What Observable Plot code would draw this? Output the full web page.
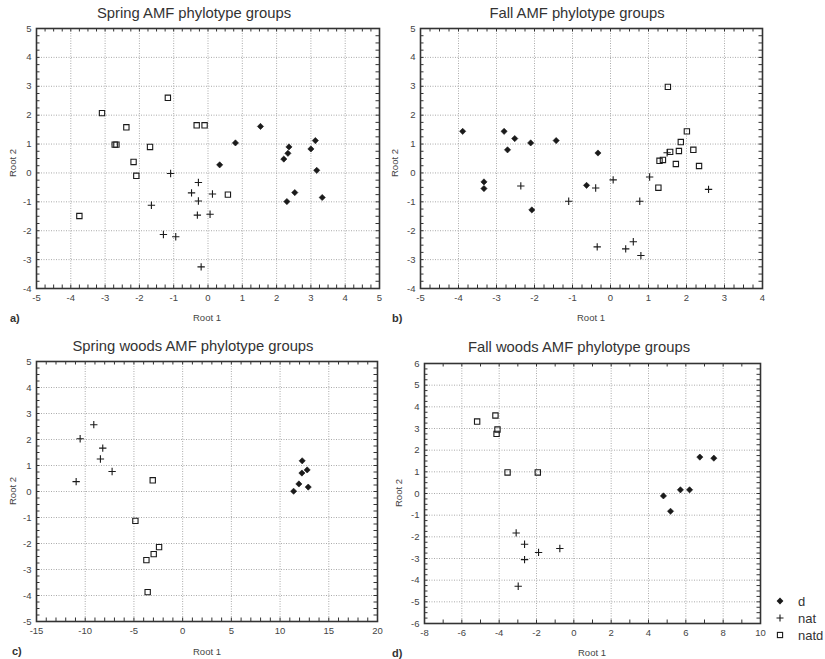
<!DOCTYPE html>
<html><head><meta charset="utf-8">
<script src="https://cdn.jsdelivr.net/npm/d3@7"></script>
<script src="https://cdn.jsdelivr.net/npm/@observablehq/plot@0.6"></script>
<style>
body{margin:0;background:#fff;}
#root{position:relative;width:825px;height:659px;font-family:"Liberation Sans",Arial,sans-serif;overflow:hidden;background:#fff;}
.pl{position:absolute;}
.title{position:absolute;font-size:14.8px;color:#333;white-space:nowrap;transform:translate(-50%,-50%);}
.xl{position:absolute;font-size:9.5px;color:#444;white-space:nowrap;transform:translate(-50%,-50%);}
.yl{position:absolute;font-size:9.5px;color:#444;white-space:nowrap;transform:translate(-50%,-50%) rotate(-90deg);}
.let{position:absolute;font-size:11px;font-weight:bold;color:#333;transform:translate(0,-50%);}
.leg{position:absolute;font-size:13px;color:#333;transform:translate(0,-50%);white-space:nowrap;}
.legsym{position:absolute;transform:translate(-50%,-50%);}
</style></head>
<body><div id="root"></div>
<script>
// ---- data: [Root 1, Root 2] ----
const groups = ["d", "nat", "natd"];
// a) Spring
const springD = [[1.53,1.61],[0.8,1.04],[0.34,0.28],[2.36,0.9],[2.33,0.68],[2.21,0.48],[3.13,1.12],[3.0,0.83],[3.17,0.09],[2.53,-0.68],[2.3,-0.99],[3.33,-0.85]];
const springNat = [[-1.09,-0.02],[-0.28,-0.33],[-0.48,-0.69],[0.13,-0.73],[-0.28,-0.97],[-1.65,-1.12],[-0.31,-1.46],[0.06,-1.43],[-1.3,-2.13],[-0.94,-2.21],[-0.2,-3.25]];
const springNatd = [[-3.09,2.07],[-1.17,2.6],[-2.38,1.58],[-2.72,0.98],[-2.67,0.98],[-1.69,0.9],[-2.17,0.38],[-2.09,-0.1],[-0.33,1.65],[-0.1,1.65],[0.58,-0.75],[-3.75,-1.49]];
// b) Fall
const fallD = [[-3.89,1.44],[-2.8,1.44],[-2.52,1.19],[-2.71,0.8],[-2.1,1.04],[-1.43,1.12],[-0.33,0.69],[-3.33,-0.31],[-3.33,-0.54],[-0.63,-0.43],[-2.07,-1.28]];
const fallNat = [[-2.36,-0.45],[-0.39,-0.52],[0.07,-0.24],[1.03,-0.14],[-1.1,-0.98],[0.77,-0.98],[2.58,-0.57],[1.49,0.7],[-0.35,-2.56],[0.4,-2.63],[0.6,-2.38],[0.8,-2.86]];
const fallNatd = [[1.51,2.98],[2.01,1.44],[1.85,1.07],[1.57,0.73],[1.8,0.76],[2.18,0.8],[1.29,0.42],[1.38,0.45],[1.72,0.31],[2.33,0.24],[1.26,-0.51]];
// c) Spring woods
const springWoodsD = [[12.27,1.18],[12.78,0.83],[12.24,0.71],[11.93,0.29],[12.89,0.17],[11.39,0.01]];
const springWoodsNat = [[-9.12,2.57],[-10.52,2.03],[-8.2,1.67],[-8.44,1.25],[-7.24,0.77],[-10.93,0.38]];
const springWoodsNatd = [[-3.07,0.43],[-4.85,-1.13],[-2.42,-2.14],[-2.97,-2.41],[-3.72,-2.64],[-3.59,-3.87]];
// d) Fall woods
const fallWoodsD = [[6.75,1.68],[7.5,1.63],[4.8,-0.11],[5.71,0.17],[6.2,0.17],[5.18,-0.82]];
const fallWoodsNat = [[-3.09,-1.82],[-2.64,-2.34],[-2.64,-3.05],[-1.89,-2.72],[-0.75,-2.54],[-2.98,-4.28]];
const fallWoodsNatd = [[-5.18,3.32],[-4.2,3.6],[-4.09,2.95],[-4.14,2.75],[-3.55,0.97],[-1.93,0.97]];

const titles = ["Spring AMF phylotype groups","Fall AMF phylotype groups","Spring woods AMF phylotype groups","Fall woods AMF phylotype groups"];
const letters = ["a)","b)","c)","d)"];
const xLabel = "Root 1", yLabel = "Root 2";

const panels = [
  {f:{l:36,t:28,r:379,b:288}, x:[-5,5], xs:1, xm:0.25, y:[-4,5], ys:1, ym:0.25, d:springD, nat:springNat, natd:springNatd,
   title:[194,13], letter:[10,318], xl:[207,317], yl:[12,163]},
  {f:{l:420,t:28,r:762,b:288}, x:[-5,4], xs:1, xm:0.25, y:[-4,5], ys:1, ym:0.25, d:fallD, nat:fallNat, natd:fallNatd,
   title:[577,13], letter:[392,318], xl:[591,317], yl:[394,163]},
  {f:{l:36,t:361,r:377,b:621}, x:[-15,20], xs:5, xm:1, y:[-5,5], ys:1, ym:0.25, d:springWoodsD, nat:springWoodsNat, natd:springWoodsNatd,
   title:[193,346], letter:[12,651], xl:[207,651], yl:[12,491]},
  {f:{l:424,t:363,r:760,b:623}, x:[-8,10], xs:2, xm:1, y:[-6,6], ys:1, ym:0.25, d:fallWoodsD, nat:fallWoodsNat, natd:fallWoodsNatd,
   title:[579,347], letter:[392,653], xl:[592,652], yl:[398,493]}
];

const root = document.getElementById("root");
const M = 40;
const ink = "#1a1a1a";

panels.forEach((p, i) => {
  const W = p.f.r - p.f.l, H = p.f.b - p.f.t;
  const kx = (p.x[1]-p.x[0])/W, ky = (p.y[1]-p.y[0])/H;
  const tl = 3.5;
  const rng = (a,b,s) => d3.range(Math.round((b-a)/s)+1).map(k => +(a + k*s).toFixed(6));
  const majX = rng(p.x[0], p.x[1], p.xs), majY = rng(p.y[0], p.y[1], p.ys);
  const minX = rng(p.x[0], p.x[1], p.xm), minY = rng(p.y[0], p.y[1], p.ym);
  const chart = Plot.plot({
    width: W + 2*M, height: H + 2*M,
    marginLeft: M, marginRight: M, marginTop: M, marginBottom: M,
    x: {domain: p.x}, y: {domain: p.y},
    style: {background: "none", overflow: "visible", fontFamily: "'Liberation Sans', Arial, sans-serif"},
    marks: [
      Plot.gridX(majX, {stroke: "#aaa", strokeOpacity: 1, strokeDasharray: "1,1.5"}),
      Plot.gridY(majY, {stroke: "#aaa", strokeOpacity: 1, strokeDasharray: "1,1.5"}),
      Plot.axisX(majX, {tickSize: 0, tickPadding: 6, fontSize: 9.5, fill: "#444", tickFormat: d => String(d), label: null}),
      Plot.axisY(majY, {tickSize: 0, tickPadding: 5, fontSize: 9.5, fill: "#444", tickFormat: d => String(d), label: null}),
      Plot.ruleX(minX, {x: d => d, y1: p.y[0], y2: p.y[0] + tl*ky, stroke: "#333"}),
      Plot.ruleX(minX, {x: d => d, y1: p.y[1], y2: p.y[1] - tl*ky, stroke: "#333"}),
      Plot.ruleY(minY, {y: d => d, x1: p.x[0], x2: p.x[0] + tl*kx, stroke: "#333"}),
      Plot.ruleY(minY, {y: d => d, x1: p.x[1], x2: p.x[1] - tl*kx, stroke: "#333"}),
      Plot.frame({stroke: "#333", strokeWidth: 1.6}),
      Plot.dot(p.nat, {x: d => d[0], y: d => d[1], symbol: "plus", r: 2.5, stroke: ink, strokeWidth: 1.1}),
      Plot.dot(p.natd, {x: d => d[0], y: d => d[1], symbol: "square", r: 3.0, fill: "white", fillOpacity: 0, stroke: ink, strokeWidth: 1.1}),
      Plot.dot(p.d, {x: d => d[0], y: d => d[1], symbol: "diamond2", r: 2.8, fill: ink, stroke: ink, strokeWidth: 0.6})
    ]
  });
  const div = document.createElement("div");
  div.className = "pl";
  div.style.left = (p.f.l - M) + "px";
  div.style.top = (p.f.t - M) + "px";
  div.style.width = (W + 2*M) + "px";
  div.appendChild(chart);
  root.appendChild(div);

  const add = (cls, txt, xy) => {
    const e = document.createElement("div");
    e.className = cls; e.textContent = txt;
    e.style.left = xy[0] + "px"; e.style.top = xy[1] + "px";
    root.appendChild(e);
  };
  add("title", titles[i], p.title);
  add("let", letters[i], p.letter);
  add("xl", xLabel, p.xl);
  add("yl", yLabel, p.yl);
});

// legend
const legY = [601, 618, 635];
const legSym = [
  '<svg width="10" height="10" viewBox="-5 -5 10 10"><path d="M0,-3.4L3.4,0L0,3.4L-3.4,0Z" fill="#1a1a1a"/></svg>',
  '<svg width="10" height="10" viewBox="-5 -5 10 10"><path d="M-3.5,0H3.5M0,-3.5V3.5" stroke="#1a1a1a" stroke-width="1.1"/></svg>',
  '<svg width="10" height="10" viewBox="-5 -5 10 10"><rect x="-2.6" y="-2.6" width="5.2" height="5.2" fill="none" stroke="#1a1a1a" stroke-width="1.1"/></svg>'
];
groups.forEach((g, i) => {
  const s = document.createElement("div");
  s.className = "legsym"; s.innerHTML = legSym[i];
  s.style.left = "780px"; s.style.top = legY[i] + "px";
  root.appendChild(s);
  const t = document.createElement("div");
  t.className = "leg"; t.textContent = g;
  t.style.left = "798px"; t.style.top = legY[i] + "px";
  root.appendChild(t);
});
</script>
</body></html>
